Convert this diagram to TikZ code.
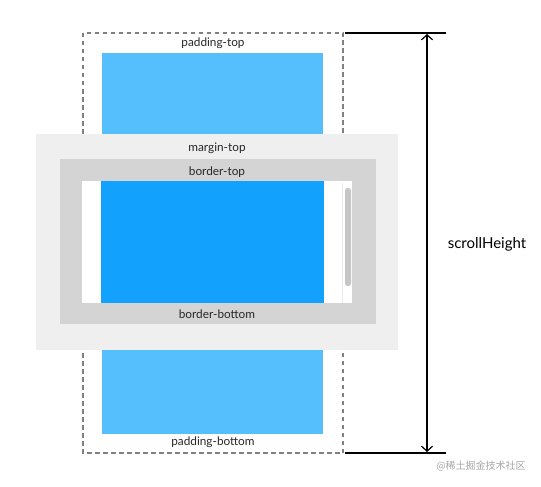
\documentclass[tikz,border=0pt]{standalone}
\usepackage{fontspec}
\setmainfont{Lato}
\newfontfamily\cjkfont{Noto Sans CJK SC}
\usetikzlibrary{positioning,arrows.meta}
\definecolor{padblue}{HTML}{55BEFD}
\definecolor{boxblue}{HTML}{12A1FD}
\definecolor{margingray}{HTML}{EFEFEF}
\definecolor{bordergray}{HTML}{D4D4D4}
\definecolor{thumbgray}{HTML}{C6C6C6}

\begin{document}
\begin{tikzpicture}[x=1pt,y=-1pt,
          every node/.style={font=\fontsize{11.8}{13}\selectfont,inner sep=1pt},
          lbl/.style={text=black!85},
          dashbox/.style={draw=black!50,line width=2.2pt,dash pattern=on 4.5pt off 3.5pt},
          edge/.style={black,line width=1.5pt},
        ]
        \useasboundingbox (0,0) rectangle (541,487);
        % padding box
        \draw[dashbox] (83,33) rectangle (343,453);
        \fill[padblue] (102,53) rectangle (323,134);
        \fill[padblue] (102,350) rectangle (323,434);
        \node[lbl] (pt) at (213,43) {padding-top};
        \node[lbl] (pb) at (213,442) {padding-bottom};
        % margin, border, viewport
        \fill[margingray] (36,134) rectangle (398,350);
        \fill[bordergray] (60,159) rectangle (376,324);
        \fill[white] (82,181) rectangle (352,303);
        \fill[boxblue] (101,181) rectangle (324,303);
        \draw[black!8,line width=0.6pt] (342,183) -- (342,303);
        \fill[thumbgray,rounded corners=2.5pt] (345,188) rectangle (351,286);
        \node[lbl] (mt) at (217,148) {margin-top};
        \node[lbl] (bt) at (217,172) {border-top};
        \node[lbl] (bb) at (217,314) {border-bottom};
        % scrollHeight
        \coordinate (top) at (427,34);
        \coordinate (bot) at (427,452);
        \draw[edge] (345,33) -- (446,33);
        \draw[edge] (345,453) -- (446,453);
        \draw[black,line width=1.2pt,{Straight Barb[length=5pt,width=11pt]}-{Straight Barb[length=5pt,width=11pt]}] (top) -- (bot);
        \node[font=\fontsize{15}{17}\selectfont] (sh) at (487,244) {scrollHeight};
        \node[text=black!35,font=\cjkfont\fontsize{10}{12}\selectfont] (wm) at (481,466) {@稀土掘金技术社区};
      \end{tikzpicture}
\end{document}
